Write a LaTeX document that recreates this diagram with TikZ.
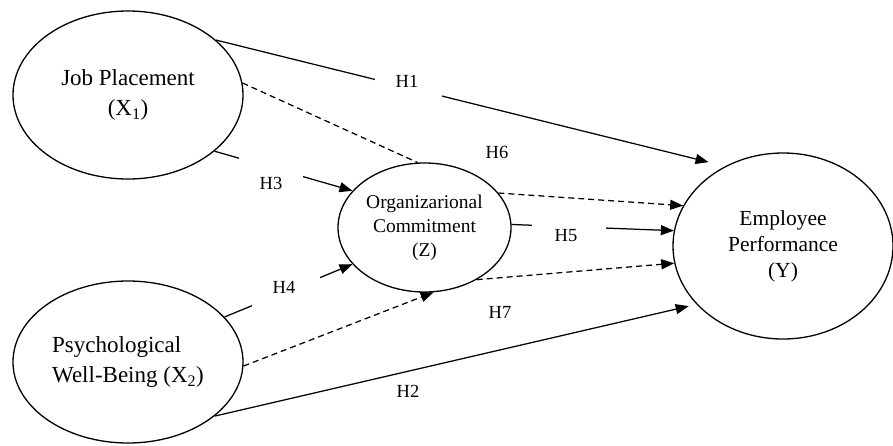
\documentclass[tikz,border=0pt]{standalone}
\usepackage{fontspec}
\setmainfont{Liberation Serif}
\usetikzlibrary{arrows.meta,shapes.geometric}
\begin{document}
\begin{tikzpicture}[x=1pt,y=-1pt,
  var/.style={draw, ellipse, line width=1.3pt, inner sep=0pt, align=center},
  link/.style={line width=1.25pt, -{Triangle[length=13pt,width=10pt]}},
  plain/.style={line width=1.25pt},
  dsh/.style={dash pattern=on 6pt off 4pt},
  hyp/.style={font=\fontsize{18.5}{20}\selectfont, inner sep=0pt}
]
\useasboundingbox (0,0) rectangle (893,445);
% variables
\node[var, minimum width=230pt, minimum height=168pt, font=\fontsize{23}{30}\selectfont] (jp) at (128,95) {Job Placement\\(X\textsubscript{1})};
\node[var, minimum width=230pt, minimum height=162pt, align=left, font=\fontsize{23}{30}\selectfont] (pwb) at (128,362) {Psychological\\Well-Being (X\textsubscript{2})};
\node[var, minimum width=173pt, minimum height=129pt, font=\fontsize{19.5}{24}\selectfont] (oc) at (424.5,227.5) {Organizarional\\Commitment\\(Z)};
\node[var, minimum width=220pt, minimum height=186pt, font=\fontsize{21.5}{26}\selectfont] (ep) at (783,246) {Employee\\Performance\\(Y)};
% connectors
\draw[link, shorten >=17pt] (jp.32.2) -- (ep.126.5);
\draw[link] (jp.-33.5) -- (oc.153.6);
\draw[plain, dsh] (jp.6.4) -- (oc.96.5);
\draw[link, dsh] (oc.25.1) -- (ep.158.5);
\draw[link] (oc.2.3) -- (ep.172.6);
\draw[link, dsh] (pwb.-2.5) -- (oc.-82.6);
\draw[link, dsh] (oc.-45.5) -- (ep.-171);
\draw[link] (pwb.25.6) -- (oc.207.3);
\draw[link, shorten >=8pt] (pwb.-32.2) -- (ep.214.7);
% label text boxes (white gaps)
\fill[white] (375,66) rectangle (442,100);
\fill[white] (239,156) rectangle (303,192);
\fill[white] (252,274) rectangle (320,308);
\fill[white] (532,216) rectangle (606,234);
% labels
\node[hyp] (h1) at (407,81) {H1};
\node[hyp] (h3) at (271,183) {H3};
\node[hyp] (h4) at (284,287) {H4};
\node[hyp] (h5) at (566,236) {H5};
\node[hyp] (h6) at (497,152) {H6};
\node[hyp] (h7) at (500,312) {H7};
\node[hyp] (h2) at (408,391) {H2};
\end{tikzpicture}
\end{document}
